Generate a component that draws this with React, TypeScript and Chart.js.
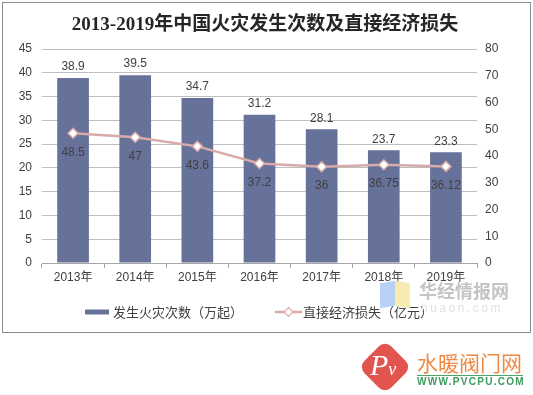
import React, { useEffect, useRef } from "react";
import { Chart, registerables } from "chart.js";

Chart.register(...registerables);

const TITLE = "2013-2019年中国火灾发生次数及直接经济损失";
const categories = ["2013年", "2014年", "2015年", "2016年", "2017年", "2018年", "2019年"];
const fireCounts = [38.9, 39.5, 34.7, 31.2, 28.1, 23.7, 23.3];
const economicLoss = [48.5, 47, 43.6, 37.2, 36, 36.75, 36.12];
const fireLabels = ["38.9", "39.5", "34.7", "31.2", "28.1", "23.7", "23.3"];
const lossLabels = ["48.5", "47", "43.6", "37.2", "36", "36.75", "36.12"];
const seriesNames = ["发生火灾次数（万起）", "直接经济损失（亿元）"];

const BAR_COLOR = "#67729A";
const LINE_COLOR = "#D9AAAA";
const TEXT_COLOR = "#404040";
const SANS = "'Liberation Sans', Arial, 'Noto Sans CJK SC', sans-serif";
const CJK = "'Noto Sans CJK SC', 'Liberation Sans', sans-serif";

const extrasPlugin = {
  id: "extras",
  afterDatasetsDraw(chart: any) {
    const ctx = chart.ctx;
    ctx.save();
    ctx.font = `12px ${SANS}`;
    ctx.fillStyle = TEXT_COLOR;
    ctx.textAlign = "center";
    ctx.textBaseline = "middle";
    const barMeta = chart.getDatasetMeta(0);
    barMeta.data.forEach((el: any, i: number) => {
      ctx.fillText(fireLabels[i], el.x, el.y - 11);
    });
    const lineMeta = chart.getDatasetMeta(1);
    lineMeta.data.forEach((el: any, i: number) => {
      ctx.fillText(lossLabels[i], el.x, el.y + 19);
    });
    ctx.restore();
  },
  afterDraw(chart: any) {
    const ctx = chart.ctx;
    ctx.save();
    // title
    ctx.font = `bold 19px 'Liberation Serif', 'Noto Sans CJK SC', serif`;
    ctx.fillStyle = "#262626";
    ctx.textAlign = "center";
    ctx.textBaseline = "middle";
    ctx.fillText(TITLE, 262, 22);
    // legend
    const ly = 309;
    ctx.fillStyle = BAR_COLOR;
    ctx.fillRect(82, ly - 2.5, 24, 5);
    ctx.font = `13px ${CJK}`;
    ctx.fillStyle = TEXT_COLOR;
    ctx.textAlign = "left";
    ctx.fillText(seriesNames[0], 110, ly);
    ctx.strokeStyle = LINE_COLOR;
    ctx.lineWidth = 2.5;
    ctx.beginPath();
    ctx.moveTo(272, ly);
    ctx.lineTo(299, ly);
    ctx.stroke();
    ctx.beginPath();
    ctx.moveTo(285.5, ly - 4.5);
    ctx.lineTo(290, ly);
    ctx.lineTo(285.5, ly + 4.5);
    ctx.lineTo(281, ly);
    ctx.closePath();
    ctx.fillStyle = "#ffffff";
    ctx.fill();
    ctx.lineWidth = 1.2;
    ctx.stroke();
    ctx.fillStyle = TEXT_COLOR;
    ctx.fillText(seriesNames[1], 300, ly);
    ctx.restore();
  },
};

function ChartBox() {
  const ref = useRef<HTMLCanvasElement | null>(null);
  useEffect(() => {
    if (!ref.current) return;
    const chart = new Chart(ref.current, {
      type: "bar",
      data: {
        labels: categories,
        datasets: [
          {
            type: "bar",
            label: seriesNames[0],
            data: fireCounts,
            backgroundColor: BAR_COLOR,
            yAxisID: "y",
            barPercentage: 0.51,
            categoryPercentage: 1,
            order: 1,
          },
          {
            type: "line",
            label: seriesNames[1],
            data: economicLoss,
            borderColor: LINE_COLOR,
            borderWidth: 2.5,
            pointStyle: "rectRot",
            pointRadius: 5,
            pointBorderWidth: 1.5,
            pointBackgroundColor: "#ffffff",
            pointBorderColor: LINE_COLOR,
            yAxisID: "y1",
            tension: 0,
            order: 0,
          },
        ] as any,
      },
      options: {
        animation: false,
        responsive: false,
        maintainAspectRatio: false,
        layout: { padding: { top: 46, left: 0, right: 0, bottom: 0 } },
        plugins: {
          legend: { display: false },
          title: { display: false },
          tooltip: { enabled: false },
        },
        scales: {
          x: {
            grid: {
              display: true,
              drawOnChartArea: false,
              drawTicks: true,
              tickLength: 5,
              color: "#A6A6A6",
            },
            border: { display: true, color: "#A6A6A6" },
            ticks: {
              color: TEXT_COLOR,
              font: { size: 12, family: SANS },
              padding: 2,
              maxRotation: 0,
            },
            afterFit(scale: any) {
              scale.height = 69;
            },
          },
          y: {
            position: "left",
            min: 0,
            max: 45,
            ticks: {
              stepSize: 5,
              color: TEXT_COLOR,
              font: { size: 12, family: SANS },
              padding: 10,
            },
            grid: { color: "#BFBFBF", drawTicks: false },
            border: { display: false },
            afterFit(scale: any) {
              scale.width = 39;
            },
          },
          y1: {
            position: "right",
            min: 0,
            max: 80,
            ticks: {
              stepSize: 10,
              color: TEXT_COLOR,
              font: { size: 12, family: SANS },
              padding: 8,
            },
            grid: { display: false, drawTicks: false },
            border: { display: false },
            afterFit(scale: any) {
              scale.width = 53;
            },
          },
        },
      } as any,
      plugins: [extrasPlugin],
    });
    return () => chart.destroy();
  }, []);
  return <canvas ref={ref} width={527} height={329} style={{ display: "block", width: 527, height: 329 }} />;
}

export default function App() {
  return (
    <div style={{ position: "fixed", left: 0, top: 0, width: 533, height: 395, background: "#ffffff", overflow: "hidden" }}>
      <div
        style={{
          position: "absolute",
          left: 2,
          top: 2,
          width: 529,
          height: 331,
          border: "1px solid #8C8C8C",
          boxSizing: "border-box",
          background: "#fff",
        }}
      >
        <ChartBox />
      </div>
      {/* huaon watermark */}
      <div style={{ position: "absolute", left: 380, top: 282, width: 15, height: 25, background: "#A9C9F2", opacity: 0.85, transform: "skewY(-10deg)" }} />
      <div style={{ position: "absolute", left: 395, top: 282, width: 15, height: 25, background: "#F7E7A3", opacity: 0.85, transform: "skewY(10deg)" }} />
      <div style={{ position: "absolute", left: 419, top: 279, fontFamily: CJK, fontWeight: "bold", fontSize: 18, color: "#C4C4C4", whiteSpace: "nowrap", lineHeight: "22px" }}>
        华经情报网
      </div>
      <div style={{ position: "absolute", left: 421, top: 301, fontFamily: SANS, fontSize: 12, color: "#E2E2E2", letterSpacing: 2.5, whiteSpace: "nowrap", lineHeight: "14px" }}>
        huaon.com
      </div>
      {/* pvcpu logo */}
      <div style={{ position: "absolute", left: 366, top: 348, width: 38, height: 38, background: "#E2554E", borderRadius: 9, transform: "rotate(45deg)" }} />
      <div style={{ position: "absolute", left: 370, top: 350, fontFamily: "'Liberation Serif', serif", fontStyle: "italic", fontSize: 30, color: "#ffffff", lineHeight: "30px", whiteSpace: "nowrap" }}>
        P<span style={{ fontSize: 18 }}>v</span>
      </div>
      <div style={{ position: "absolute", left: 417, top: 350, fontFamily: CJK, fontSize: 21, color: "#EE8A45", lineHeight: "24px", whiteSpace: "nowrap" }}>
        水暖阀门网
      </div>
      <div style={{ position: "absolute", left: 417, top: 375, width: 106, height: 1, background: "#4FA36A" }} />
      <div style={{ position: "absolute", left: 417, top: 377, fontFamily: SANS, fontWeight: "bold", fontSize: 10, color: "#3E9A5E", letterSpacing: 1.3, lineHeight: "10px", whiteSpace: "nowrap" }}>
        WWW.PVCPU.COM
      </div>
    </div>
  );
}
